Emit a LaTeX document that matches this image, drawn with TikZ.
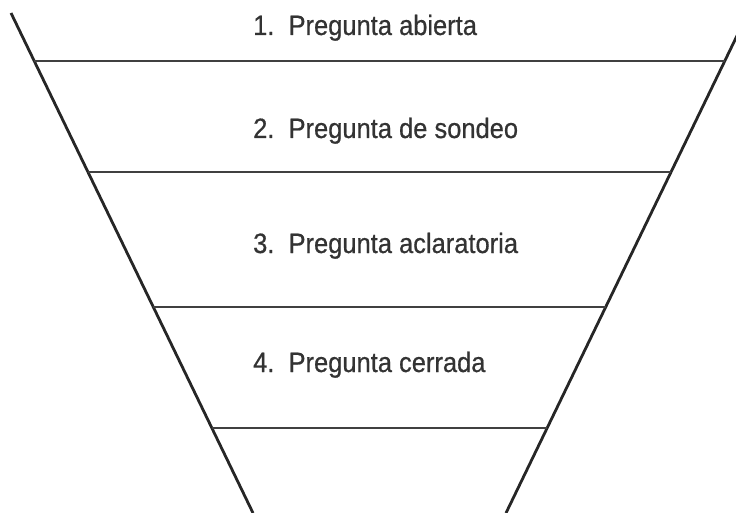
\documentclass[tikz,border=0pt]{standalone}
\usepackage{fontspec}
\setmainfont[FakeStretch=0.91,FakeBold=0.6]{Liberation Sans}
\begin{document}
\begin{tikzpicture}[x=1pt,y=-1pt,
  funnel/.style={draw=black!85,line width=2.8pt},
  level/.style={draw=black!75,line width=2.8pt},
  lbl/.style={anchor=base west,inner sep=0pt,text=black!80,font=\fontsize{28}{32}\selectfont}]
\useasboundingbox (0,0) rectangle (736,513);
\clip (0,0) rectangle (736,513);
\coordinate (tl) at (11,13);
\coordinate (bl) at (253,513);
\coordinate (tr) at (748,13);
\coordinate (br) at (506,513);
\draw[funnel] (tl) -- (bl);
\draw[funnel] (tr) -- (br);
\foreach \y/\n in {61/a,172/b,307/c,428/d}{
  \coordinate (l\n) at (intersection of tl--bl and 0,\y--1,\y);
  \coordinate (r\n) at (intersection of tr--br and 0,\y--1,\y);
  \draw[level] (l\n) -- (r\n);
}
\node[lbl] (t1) at (253,35) {1.\ \ Pregunta abierta};
\node[lbl] (t2) at (253,138) {2.\ \ Pregunta de sondeo};
\node[lbl] (t3) at (253,253) {3.\ \ Pregunta aclaratoria};
\node[lbl] (t4) at (253,372) {4.\ \ Pregunta cerrada};
\end{tikzpicture}
\end{document}
